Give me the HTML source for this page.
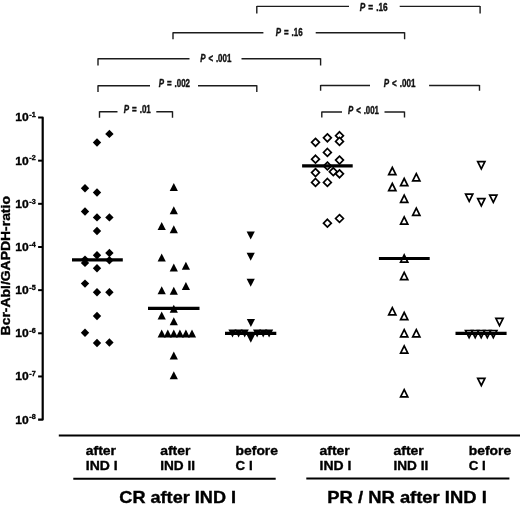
<!DOCTYPE html>
<html lang="en"><head><meta charset="utf-8"><title>Bcr-Abl/GAPDH-ratio</title>
<style>
html,body{margin:0;padding:0;background:#fff;}
svg{display:block;}
text{font-family:"Liberation Sans", Arial, Helvetica, sans-serif;font-weight:bold;fill:#000;stroke:#000;stroke-width:0.35px;}
.p{fill:#111;stroke:#111;stroke-width:0.45px;word-spacing:1px;}
</style></head><body>
<svg width="520" height="505" viewBox="0 0 520 505">
<rect width="520" height="505" fill="#fff"/>
<path d="M38.1 117.50 H42.70 V419.62 H38.1" fill="none" stroke="#000" stroke-width="2.2" stroke-linejoin="round"/>
<text x="15.2" y="121.40" font-size="11" textLength="13.4" lengthAdjust="spacingAndGlyphs">10</text>
<text x="29.3" y="117.30" font-size="7.3" textLength="6.4" lengthAdjust="spacingAndGlyphs">-1</text>
<line x1="38.1" x2="42.7" y1="160.66" y2="160.66" stroke="#000" stroke-width="2"/>
<text x="15.2" y="164.56" font-size="11" textLength="13.4" lengthAdjust="spacingAndGlyphs">10</text>
<text x="29.3" y="160.46" font-size="7.3" textLength="6.4" lengthAdjust="spacingAndGlyphs">-2</text>
<line x1="38.1" x2="42.7" y1="203.82" y2="203.82" stroke="#000" stroke-width="2"/>
<text x="15.2" y="207.72" font-size="11" textLength="13.4" lengthAdjust="spacingAndGlyphs">10</text>
<text x="29.3" y="203.62" font-size="7.3" textLength="6.4" lengthAdjust="spacingAndGlyphs">-3</text>
<line x1="38.1" x2="42.7" y1="246.98" y2="246.98" stroke="#000" stroke-width="2"/>
<text x="15.2" y="250.88" font-size="11" textLength="13.4" lengthAdjust="spacingAndGlyphs">10</text>
<text x="29.3" y="246.78" font-size="7.3" textLength="6.4" lengthAdjust="spacingAndGlyphs">-4</text>
<line x1="38.1" x2="42.7" y1="290.14" y2="290.14" stroke="#000" stroke-width="2"/>
<text x="15.2" y="294.04" font-size="11" textLength="13.4" lengthAdjust="spacingAndGlyphs">10</text>
<text x="29.3" y="289.94" font-size="7.3" textLength="6.4" lengthAdjust="spacingAndGlyphs">-5</text>
<line x1="38.1" x2="42.7" y1="333.30" y2="333.30" stroke="#000" stroke-width="2"/>
<text x="15.2" y="337.20" font-size="11" textLength="13.4" lengthAdjust="spacingAndGlyphs">10</text>
<text x="29.3" y="333.10" font-size="7.3" textLength="6.4" lengthAdjust="spacingAndGlyphs">-6</text>
<line x1="38.1" x2="42.7" y1="376.46" y2="376.46" stroke="#000" stroke-width="2"/>
<text x="15.2" y="380.36" font-size="11" textLength="13.4" lengthAdjust="spacingAndGlyphs">10</text>
<text x="29.3" y="376.26" font-size="7.3" textLength="6.4" lengthAdjust="spacingAndGlyphs">-7</text>
<text x="15.2" y="423.52" font-size="11" textLength="13.4" lengthAdjust="spacingAndGlyphs">10</text>
<text x="29.3" y="419.42" font-size="7.3" textLength="6.4" lengthAdjust="spacingAndGlyphs">-8</text>
<text transform="translate(10.2 335.4) rotate(-90)" font-size="12.3" textLength="139.3" lengthAdjust="spacingAndGlyphs">Bcr-Abl/GAPDH-ratio</text>
<path d="M109.4 129.7 L113.6 133.9 L109.4 138.1 L105.2 133.9Z"/>
<path d="M97.0 138.3 L101.2 142.5 L97.0 146.7 L92.8 142.5Z"/>
<path d="M85.0 184.1 L89.2 188.3 L85.0 192.5 L80.8 188.3Z"/>
<path d="M97.0 188.3 L101.2 192.5 L97.0 196.7 L92.8 192.5Z"/>
<path d="M85.0 207.3 L89.2 211.5 L85.0 215.7 L80.8 211.5Z"/>
<path d="M97.0 213.2 L101.2 217.4 L97.0 221.6 L92.8 217.4Z"/>
<path d="M109.4 213.2 L113.6 217.4 L109.4 221.6 L105.2 217.4Z"/>
<path d="M97.0 226.8 L101.2 231.0 L97.0 235.2 L92.8 231.0Z"/>
<path d="M97.0 251.1 L101.2 255.3 L97.0 259.5 L92.8 255.3Z"/>
<path d="M109.4 248.8 L113.6 253.0 L109.4 257.2 L105.2 253.0Z"/>
<path d="M85.0 255.4 L89.2 259.6 L85.0 263.8 L80.8 259.6Z"/>
<path d="M85.0 258.7 L89.2 262.9 L85.0 267.1 L80.8 262.9Z"/>
<path d="M109.4 256.0 L113.6 260.2 L109.4 264.4 L105.2 260.2Z"/>
<path d="M97.0 264.0 L101.2 268.2 L97.0 272.4 L92.8 268.2Z"/>
<path d="M85.0 279.4 L89.2 283.6 L85.0 287.8 L80.8 283.6Z"/>
<path d="M97.0 288.1 L101.2 292.3 L97.0 296.5 L92.8 292.3Z"/>
<path d="M109.4 288.1 L113.6 292.3 L109.4 296.5 L105.2 292.3Z"/>
<path d="M97.0 311.8 L101.2 316.0 L97.0 320.2 L92.8 316.0Z"/>
<path d="M85.0 328.5 L89.2 332.7 L85.0 336.9 L80.8 332.7Z"/>
<path d="M97.0 338.8 L101.2 343.0 L97.0 347.2 L92.8 343.0Z"/>
<path d="M109.4 338.3 L113.6 342.5 L109.4 346.7 L105.2 342.5Z"/>
<line x1="72" x2="122.8" y1="259.9" y2="259.9" stroke="#000" stroke-width="3.2"/>
<path d="M173.8 183.0 L177.9 191.0 H169.7Z"/>
<path d="M173.8 206.2 L177.9 214.2 H169.7Z"/>
<path d="M161.7 222.1 L165.8 230.1 H157.6Z"/>
<path d="M173.8 225.2 L177.9 233.2 H169.7Z"/>
<path d="M161.7 253.5 L165.8 261.5 H157.6Z"/>
<path d="M173.8 263.6 L177.9 271.6 H169.7Z"/>
<path d="M185.9 261.8 L190.0 269.8 H181.8Z"/>
<path d="M185.9 281.9 L190.0 289.9 H181.8Z"/>
<path d="M161.7 286.2 L165.8 294.2 H157.6Z"/>
<path d="M173.8 286.7 L177.9 294.7 H169.7Z"/>
<path d="M173.8 304.8 L177.9 312.8 H169.7Z"/>
<path d="M161.7 311.5 L165.8 319.5 H157.6Z"/>
<path d="M173.8 317.2 L177.9 325.2 H169.7Z"/>
<path d="M161.7 329.5 L165.8 337.5 H157.6Z"/>
<path d="M167.8 329.5 L171.9 337.5 H163.7Z"/>
<path d="M173.8 329.5 L177.9 337.5 H169.7Z"/>
<path d="M179.9 329.5 L184.0 337.5 H175.8Z"/>
<path d="M185.9 329.5 L190.0 337.5 H181.8Z"/>
<path d="M192.0 329.5 L196.1 337.5 H187.9Z"/>
<path d="M173.8 351.4 L177.9 359.4 H169.7Z"/>
<path d="M173.8 371.2 L177.9 379.2 H169.7Z"/>
<line x1="148" x2="199.5" y1="308.3" y2="308.3" stroke="#000" stroke-width="3.2"/>
<path d="M250.7 239.6 L254.8 231.6 H246.6Z"/>
<path d="M250.7 260.7 L254.8 252.7 H246.6Z"/>
<path d="M250.7 286.7 L254.8 278.7 H246.6Z"/>
<path d="M250.9 327.1 L255.0 319.1 H246.8Z"/>
<path d="M232.5 337.4 L236.6 329.4 H228.4Z"/>
<path d="M238.6 337.4 L242.7 329.4 H234.5Z"/>
<path d="M244.7 337.4 L248.8 329.4 H240.6Z"/>
<path d="M257.1 337.4 L261.2 329.4 H253.0Z"/>
<path d="M263.2 337.4 L267.3 329.4 H259.1Z"/>
<path d="M269.1 337.4 L273.2 329.4 H265.0Z"/>
<path d="M250.8 342.8 L254.9 334.8 H246.7Z"/>
<line x1="225" x2="276.3" y1="333.4" y2="333.4" stroke="#000" stroke-width="3.2"/>
<path d="M315.5 138.4 L319.4 142.3 L315.5 146.2 L311.6 142.3Z" fill="#fff" stroke="#000" stroke-width="1.7"/>
<path d="M327.4 133.9 L331.3 137.8 L327.4 141.7 L323.5 137.8Z" fill="#fff" stroke="#000" stroke-width="1.7"/>
<path d="M339.5 131.8 L343.4 135.7 L339.5 139.6 L335.6 135.7Z" fill="#fff" stroke="#000" stroke-width="1.7"/>
<path d="M339.5 137.5 L343.4 141.4 L339.5 145.3 L335.6 141.4Z" fill="#fff" stroke="#000" stroke-width="1.7"/>
<path d="M327.4 148.5 L331.3 152.4 L327.4 156.3 L323.5 152.4Z" fill="#fff" stroke="#000" stroke-width="1.7"/>
<path d="M315.5 155.3 L319.4 159.2 L315.5 163.1 L311.6 159.2Z" fill="#fff" stroke="#000" stroke-width="1.7"/>
<path d="M339.5 156.2 L343.4 160.1 L339.5 164.0 L335.6 160.1Z" fill="#fff" stroke="#000" stroke-width="1.7"/>
<path d="M327.4 162.1 L331.3 166.0 L327.4 169.9 L323.5 166.0Z" fill="#fff" stroke="#000" stroke-width="1.7"/>
<path d="M333.3 167.8 L337.2 171.7 L333.3 175.6 L329.4 171.7Z" fill="#fff" stroke="#000" stroke-width="1.7"/>
<path d="M315.5 168.7 L319.4 172.6 L315.5 176.5 L311.6 172.6Z" fill="#fff" stroke="#000" stroke-width="1.7"/>
<path d="M339.5 169.9 L343.4 173.8 L339.5 177.7 L335.6 173.8Z" fill="#fff" stroke="#000" stroke-width="1.7"/>
<path d="M315.5 178.5 L319.4 182.4 L315.5 186.3 L311.6 182.4Z" fill="#fff" stroke="#000" stroke-width="1.7"/>
<path d="M327.4 178.5 L331.3 182.4 L327.4 186.3 L323.5 182.4Z" fill="#fff" stroke="#000" stroke-width="1.7"/>
<path d="M327.4 219.3 L331.3 223.2 L327.4 227.1 L323.5 223.2Z" fill="#fff" stroke="#000" stroke-width="1.7"/>
<path d="M339.5 214.6 L343.4 218.5 L339.5 222.4 L335.6 218.5Z" fill="#fff" stroke="#000" stroke-width="1.7"/>
<line x1="302.1" x2="352.7" y1="165.8" y2="165.8" stroke="#000" stroke-width="3.2"/>
<path d="M392.3 167.5 L395.9 174.7 H388.7Z" fill="#fff" stroke="#000" stroke-width="1.7"/>
<path d="M416.3 173.7 L419.9 180.9 H412.7Z" fill="#fff" stroke="#000" stroke-width="1.7"/>
<path d="M404.2 178.5 L407.8 185.7 H400.6Z" fill="#fff" stroke="#000" stroke-width="1.7"/>
<path d="M392.3 183.5 L395.9 190.7 H388.7Z" fill="#fff" stroke="#000" stroke-width="1.7"/>
<path d="M404.2 195.1 L407.8 202.3 H400.6Z" fill="#fff" stroke="#000" stroke-width="1.7"/>
<path d="M416.3 208.1 L419.9 215.3 H412.7Z" fill="#fff" stroke="#000" stroke-width="1.7"/>
<path d="M404.2 216.9 L407.8 224.1 H400.6Z" fill="#fff" stroke="#000" stroke-width="1.7"/>
<path d="M404.2 255.0 L407.8 262.2 H400.6Z" fill="#fff" stroke="#000" stroke-width="1.7"/>
<path d="M404.2 272.4 L407.8 279.6 H400.6Z" fill="#fff" stroke="#000" stroke-width="1.7"/>
<path d="M392.3 307.7 L395.9 314.9 H388.7Z" fill="#fff" stroke="#000" stroke-width="1.7"/>
<path d="M404.2 312.5 L407.8 319.7 H400.6Z" fill="#fff" stroke="#000" stroke-width="1.7"/>
<path d="M404.2 329.6 L407.8 336.8 H400.6Z" fill="#fff" stroke="#000" stroke-width="1.7"/>
<path d="M416.3 329.6 L419.9 336.8 H412.7Z" fill="#fff" stroke="#000" stroke-width="1.7"/>
<path d="M404.2 345.9 L407.8 353.1 H400.6Z" fill="#fff" stroke="#000" stroke-width="1.7"/>
<path d="M404.2 389.6 L407.8 396.8 H400.6Z" fill="#fff" stroke="#000" stroke-width="1.7"/>
<line x1="378.9" x2="429.7" y1="258.5" y2="258.5" stroke="#000" stroke-width="3.2"/>
<path d="M481.3 168.9 L484.9 161.7 H477.7Z" fill="#fff" stroke="#000" stroke-width="1.7"/>
<path d="M469.2 201.3 L472.8 194.1 H465.6Z" fill="#fff" stroke="#000" stroke-width="1.7"/>
<path d="M481.3 205.9 L484.9 198.7 H477.7Z" fill="#fff" stroke="#000" stroke-width="1.7"/>
<path d="M493.3 202.4 L496.9 195.2 H489.7Z" fill="#fff" stroke="#000" stroke-width="1.7"/>
<path d="M499.5 325.6 L503.1 318.4 H495.9Z" fill="#fff" stroke="#000" stroke-width="1.7"/>
<path d="M469.1 337.7 L472.7 330.5 H465.5Z" fill="#fff" stroke="#000" stroke-width="1.7"/>
<path d="M475.2 337.7 L478.8 330.5 H471.6Z" fill="#fff" stroke="#000" stroke-width="1.7"/>
<path d="M481.2 337.7 L484.8 330.5 H477.6Z" fill="#fff" stroke="#000" stroke-width="1.7"/>
<path d="M487.3 337.7 L490.9 330.5 H483.7Z" fill="#fff" stroke="#000" stroke-width="1.7"/>
<path d="M493.3 337.7 L496.9 330.5 H489.7Z" fill="#fff" stroke="#000" stroke-width="1.7"/>
<path d="M481.3 385.5 L484.9 378.3 H477.7Z" fill="#fff" stroke="#000" stroke-width="1.7"/>
<line x1="455.5" x2="506.6" y1="333.4" y2="333.4" stroke="#000" stroke-width="3.2"/>
<path d="M256.8 6.4H349.0M399.7 6.4H480.1M256.8 5.9V13.4M480.1 5.9V13.4" fill="none" stroke="#1c1c1c" stroke-width="1.4"/>
<text class="p" x="359.8" y="10.8" font-size="11.2" textLength="27.8" lengthAdjust="spacingAndGlyphs"><tspan font-style="italic">P</tspan> = .16</text>
<path d="M173.0 32.7H263.4M315.7 32.7H404.6M173.0 32.2V39.2M404.6 32.2V39.2" fill="none" stroke="#1c1c1c" stroke-width="1.4"/>
<text class="p" x="275.8" y="36.2" font-size="11.2" textLength="26.8" lengthAdjust="spacingAndGlyphs"><tspan font-style="italic">P</tspan> = .16</text>
<path d="M98.0 58.8H189.5M241.5 58.8H320.6M98.0 58.3V65.5M320.6 58.3V65.5" fill="none" stroke="#1c1c1c" stroke-width="1.4"/>
<text class="p" x="200.2" y="62.1" font-size="11.2" textLength="31.1" lengthAdjust="spacingAndGlyphs"><tspan font-style="italic">P</tspan> &lt; .001</text>
<path d="M98.0 85.8H150.0M198.0 85.8H256.8M98.0 85.3V92.0M256.8 85.3V92.0" fill="none" stroke="#1c1c1c" stroke-width="1.4"/>
<text class="p" x="158.8" y="87.2" font-size="11.2" textLength="31.2" lengthAdjust="spacingAndGlyphs"><tspan font-style="italic">P</tspan> = .002</text>
<path d="M320.6 85.5H370.0M429.1 85.5H479.5M320.6 85.0V90.7M479.5 85.0V90.7" fill="none" stroke="#1c1c1c" stroke-width="1.4"/>
<text class="p" x="383.8" y="87.4" font-size="11.2" textLength="31.6" lengthAdjust="spacingAndGlyphs"><tspan font-style="italic">P</tspan> &lt; .001</text>
<path d="M99.5 111.8H117.5M156.3 111.8H172.5M99.5 111.3V117.8M172.5 111.3V117.8" fill="none" stroke="#1c1c1c" stroke-width="1.4"/>
<text class="p" x="123.8" y="113.2" font-size="11.2" textLength="27.0" lengthAdjust="spacingAndGlyphs"><tspan font-style="italic">P</tspan> = .01</text>
<path d="M321.8 112.0H342.0M384.5 112.0H404.5M321.8 111.5V117.5M404.5 111.5V117.5" fill="none" stroke="#1c1c1c" stroke-width="1.4"/>
<text class="p" x="348.0" y="113.6" font-size="11.2" textLength="31.0" lengthAdjust="spacingAndGlyphs"><tspan font-style="italic">P</tspan> &lt; .001</text>
<line x1="58.8" x2="520" y1="435.6" y2="435.6" stroke="#000" stroke-width="2"/>
<line x1="73.3" x2="275.7" y1="478.7" y2="478.7" stroke="#000" stroke-width="2"/>
<line x1="306.3" x2="509.4" y1="478.5" y2="478.5" stroke="#000" stroke-width="2"/>
<text x="85.8" y="455.2" font-size="12.6" textLength="30.2" lengthAdjust="spacingAndGlyphs">after</text>
<text x="85.8" y="470.4" font-size="12.6" textLength="31.8" lengthAdjust="spacingAndGlyphs">IND I</text>
<text x="160.2" y="455.2" font-size="12.6" textLength="30.2" lengthAdjust="spacingAndGlyphs">after</text>
<text x="160.2" y="470.4" font-size="12.6" textLength="34.8" lengthAdjust="spacingAndGlyphs">IND II</text>
<text x="235.6" y="455.2" font-size="12.6" textLength="42.4" lengthAdjust="spacingAndGlyphs">before</text>
<text x="235.6" y="470.4" font-size="12.6" textLength="17.0" lengthAdjust="spacingAndGlyphs">C I</text>
<text x="319.5" y="455.2" font-size="12.6" textLength="30.2" lengthAdjust="spacingAndGlyphs">after</text>
<text x="319.5" y="470.4" font-size="12.6" textLength="31.8" lengthAdjust="spacingAndGlyphs">IND I</text>
<text x="393.5" y="455.2" font-size="12.6" textLength="30.2" lengthAdjust="spacingAndGlyphs">after</text>
<text x="393.5" y="470.4" font-size="12.6" textLength="34.8" lengthAdjust="spacingAndGlyphs">IND II</text>
<text x="468.8" y="455.2" font-size="12.6" textLength="42.4" lengthAdjust="spacingAndGlyphs">before</text>
<text x="468.8" y="470.4" font-size="12.6" textLength="17.0" lengthAdjust="spacingAndGlyphs">C I</text>
<text x="119.3" y="503.3" font-size="16.2" textLength="116.8" lengthAdjust="spacingAndGlyphs">CR after IND I</text>
<text x="327.3" y="503.3" font-size="16.2" textLength="159.5" lengthAdjust="spacingAndGlyphs">PR / NR after IND I</text>
</svg></body></html>
